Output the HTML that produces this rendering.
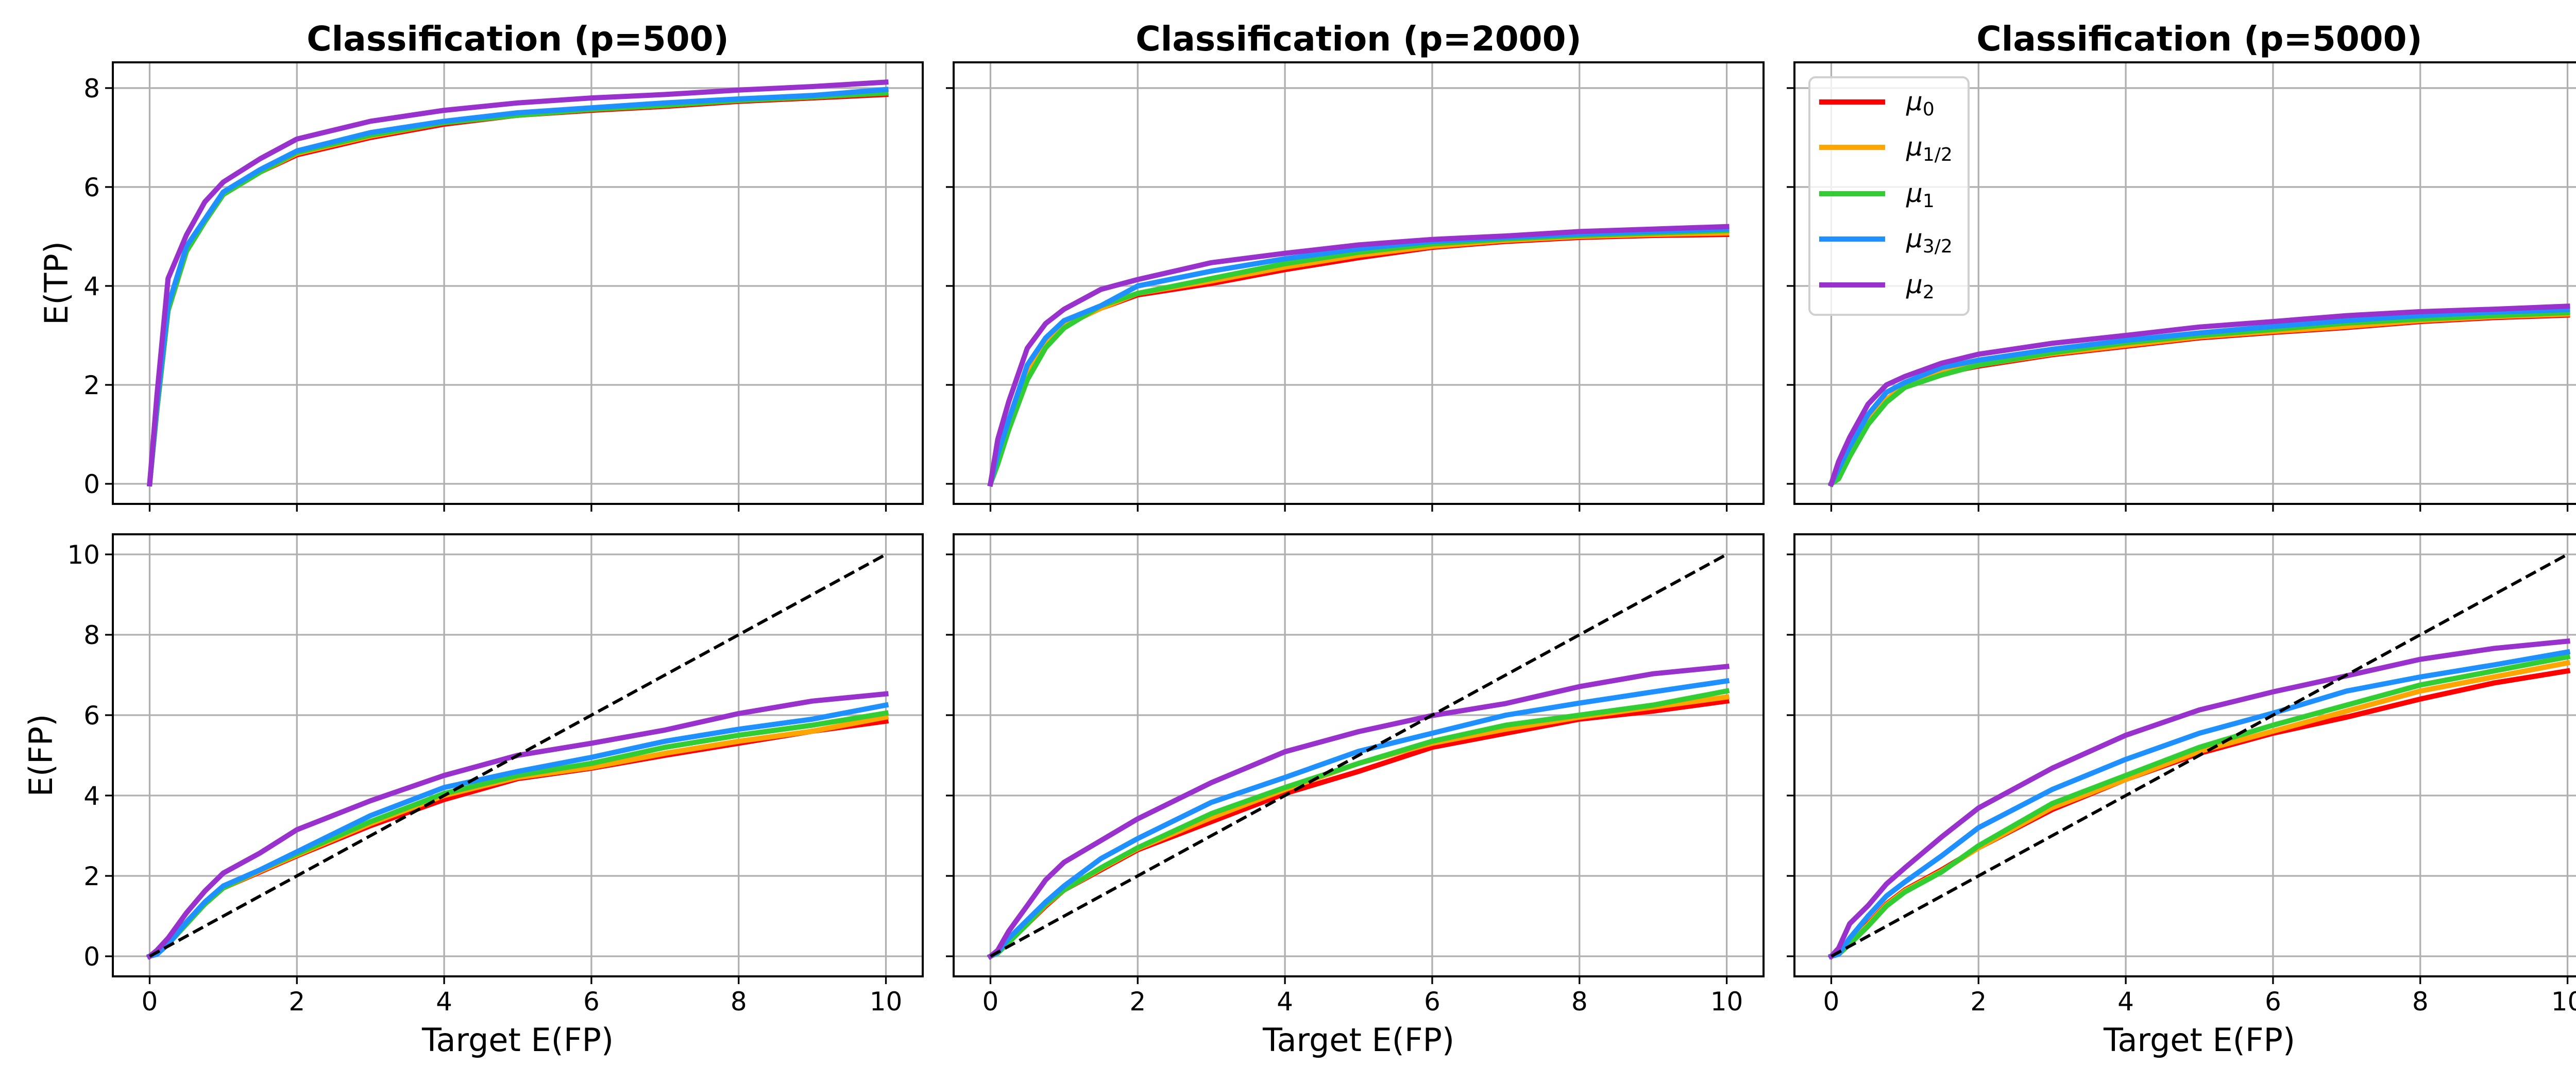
<!DOCTYPE html>
<html><head><meta charset="utf-8"><style>
html,body{margin:0;padding:0;background:#fff;}
svg{display:block;font-family:"DejaVu Sans","Liberation Sans",sans-serif;}
</style></head><body>
<svg id="chart" xmlns="http://www.w3.org/2000/svg" width="5100" height="2100" viewBox="0 0 5100 2100"></svg>
<script>
const xs = [0,0.1,0.25,0.5,0.75,1,1.5,2,3,4,5,6,7,8,9,10];
const seriesNames = ["mu0","mu1/2","mu1","mu3/2","mu2"];
const seriesColors = ["#ff0000","#ffa500","#32cd32","#1e90ff","#9932cc"];
const panelTitles = ["Classification (p=500)","Classification (p=2000)","Classification (p=5000)"];
const xTicks = [0,2,4,6,8,10];
const tpTicks = [0,2,4,6,8];
const fpTicks = [0,2,4,6,8,10];
// E(TP) top row
const tp500_mu0  = [0,1.5,3.5,4.7,5.3,5.85,6.3,6.65,7.0,7.27,7.45,7.55,7.63,7.73,7.8,7.87];
const tp500_mu12 = [0,1.5,3.5,4.7,5.3,5.85,6.3,6.68,7.03,7.3,7.45,7.57,7.65,7.75,7.82,7.9];
const tp500_mu1  = [0,1.5,3.5,4.7,5.3,5.85,6.3,6.7,7.05,7.3,7.45,7.57,7.65,7.75,7.82,7.9];
const tp500_mu32 = [0,1.6,3.6,4.8,5.35,5.9,6.35,6.73,7.1,7.33,7.5,7.6,7.7,7.78,7.85,7.97];
const tp500_mu2  = [0,1.8,4.15,5.03,5.7,6.1,6.57,6.97,7.33,7.55,7.7,7.8,7.87,7.96,8.03,8.12];
const tp2000_mu0  = [0,0.5,1.2,2.2,2.8,3.2,3.55,3.82,4.05,4.33,4.57,4.78,4.9,4.98,5.02,5.04];
const tp2000_mu12 = [0,0.5,1.2,2.2,2.8,3.2,3.55,3.85,4.1,4.38,4.62,4.8,4.92,5.0,5.04,5.07];
const tp2000_mu1  = [0,0.4,1.1,2.1,2.75,3.15,3.6,3.85,4.15,4.45,4.68,4.85,4.95,5.02,5.07,5.12];
const tp2000_mu32 = [0,0.6,1.3,2.4,2.95,3.3,3.6,4.0,4.3,4.55,4.75,4.9,4.98,5.05,5.1,5.15];
const tp2000_mu2  = [0,0.9,1.67,2.74,3.24,3.53,3.93,4.13,4.47,4.66,4.83,4.94,5.01,5.1,5.15,5.2];
const tp5000_mu0  = [0,0.2,0.58,1.23,1.68,1.98,2.23,2.38,2.61,2.78,2.95,3.06,3.16,3.28,3.36,3.41];
const tp5000_mu12 = [0,0.2,0.6,1.25,1.7,2.0,2.25,2.4,2.63,2.8,2.97,3.08,3.18,3.3,3.38,3.43];
const tp5000_mu1  = [0,0.1,0.55,1.2,1.65,1.95,2.2,2.4,2.65,2.85,3.0,3.12,3.25,3.33,3.4,3.46];
const tp5000_mu32 = [0,0.3,0.75,1.4,1.85,2.05,2.35,2.5,2.72,2.9,3.05,3.18,3.3,3.4,3.47,3.52];
const tp5000_mu2  = [0,0.45,0.94,1.61,2.0,2.17,2.44,2.62,2.84,3.0,3.17,3.28,3.4,3.48,3.53,3.59];
// E(FP) bottom row
const fp500_mu0  = [0,0.12,0.35,0.85,1.3,1.7,2.1,2.5,3.25,3.9,4.42,4.68,5.0,5.3,5.6,5.85];
const fp500_mu12 = [0,0.1,0.32,0.82,1.3,1.7,2.12,2.52,3.3,4.0,4.45,4.7,5.05,5.35,5.6,5.95];
const fp500_mu1  = [0,0.08,0.3,0.8,1.3,1.7,2.15,2.55,3.35,4.05,4.5,4.8,5.2,5.5,5.75,6.05];
const fp500_mu32 = [0,0.05,0.3,0.85,1.35,1.75,2.15,2.6,3.5,4.2,4.6,4.95,5.35,5.65,5.9,6.25];
const fp500_mu2  = [0,0.15,0.45,1.08,1.62,2.07,2.57,3.15,3.87,4.5,5.0,5.3,5.63,6.04,6.35,6.53];
const fp2000_mu0  = [0,0.1,0.4,0.8,1.25,1.65,2.15,2.65,3.35,4.05,4.6,5.2,5.55,5.9,6.1,6.35];
const fp2000_mu12 = [0,0.1,0.38,0.8,1.28,1.65,2.18,2.68,3.45,4.15,4.8,5.3,5.65,5.95,6.2,6.45];
const fp2000_mu1  = [0,0.08,0.35,0.8,1.3,1.65,2.2,2.7,3.55,4.2,4.8,5.35,5.75,6.0,6.25,6.6];
const fp2000_mu32 = [0,0.1,0.45,0.9,1.35,1.75,2.43,2.93,3.83,4.45,5.1,5.55,6.0,6.3,6.58,6.85];
const fp2000_mu2  = [0,0.15,0.63,1.26,1.9,2.34,2.88,3.42,4.32,5.09,5.59,5.99,6.29,6.71,7.03,7.21];
const fp5000_mu0  = [0,0.08,0.35,0.8,1.3,1.65,2.15,2.7,3.65,4.4,5.05,5.55,5.95,6.4,6.8,7.1];
const fp5000_mu12 = [0,0.08,0.33,0.78,1.28,1.63,2.12,2.7,3.7,4.4,5.1,5.6,6.1,6.6,6.95,7.3];
const fp5000_mu1  = [0,0.05,0.3,0.75,1.25,1.6,2.1,2.75,3.8,4.5,5.2,5.75,6.25,6.75,7.1,7.45];
const fp5000_mu32 = [0,0.05,0.45,1.0,1.5,1.85,2.5,3.2,4.15,4.9,5.55,6.05,6.6,6.95,7.25,7.57];
const fp5000_mu2  = [0,0.2,0.81,1.26,1.8,2.2,2.97,3.69,4.68,5.5,6.13,6.58,6.98,7.39,7.66,7.84];
const diagX = [0,10];
const diagY = [0,10];

const tpData = [[tp500_mu0,tp500_mu12,tp500_mu1,tp500_mu32,tp500_mu2],[tp2000_mu0,tp2000_mu12,tp2000_mu1,tp2000_mu32,tp2000_mu2],[tp5000_mu0,tp5000_mu12,tp5000_mu1,tp5000_mu32,tp5000_mu2]];
const fpData = [[fp500_mu0,fp500_mu12,fp500_mu1,fp500_mu32,fp500_mu2],[fp2000_mu0,fp2000_mu12,fp2000_mu1,fp2000_mu32,fp2000_mu2],[fp5000_mu0,fp5000_mu12,fp5000_mu1,fp5000_mu32,fp5000_mu2]];

const NS = "http://www.w3.org/2000/svg";
const svg = document.getElementById("chart");
function mk(tag, attrs, parent){ const e=document.createElementNS(NS,tag); for(const k in attrs) e.setAttribute(k,attrs[k]); (parent||svg).appendChild(e); return e; }

const colLeft = [219,1851,3483];
const PW = 1572;
const rows = [{top:121,bottom:978,ymin:-0.406,ymax:8.52,ticks:tpTicks,data:tpData,label:"E(TP)",labelX:109,diag:false,name:"tp"},
              {top:1037,bottom:1895,ymin:-0.5,ymax:10.5,ticks:fpTicks,data:fpData,label:"E(FP)",labelX:79,diag:true,name:"fp"}];
const XMIN=-0.5, XMAX=10.5;

rows.forEach((r,ri)=>{
  for(let c=0;c<3;c++){
    const L=colLeft[c];
    const xS=v=>L+(v-XMIN)/(XMAX-XMIN)*PW;
    const yS=v=>r.bottom-(v-r.ymin)/(r.ymax-r.ymin)*(r.bottom-r.top);
    const g=mk("g",{});
    
    
    // grid
    xTicks.forEach(t=>{
      const l=mk("line",{x1:xS(t),x2:xS(t),y1:r.top,y2:r.bottom,stroke:"#b0b0b0","stroke-width":3.3},g);
      
      
      const tk=mk("line",{x1:xS(t),x2:xS(t),y1:r.bottom,y2:r.bottom+15,stroke:"#000","stroke-width":3.3},g);
      
      
      if(ri===1){
        const tx=mk("text",{x:xS(t),y:r.bottom+66,"font-size":50,"text-anchor":"middle",fill:"#000"},g);
        tx.textContent=t;
        
        
      }
    });
    r.ticks.forEach(t=>{
      const l=mk("line",{x1:L,x2:L+PW,y1:yS(t),y2:yS(t),stroke:"#b0b0b0","stroke-width":3.3},g);
      
      
      const tk=mk("line",{x1:L-15,x2:L,y1:yS(t),y2:yS(t),stroke:"#000","stroke-width":3.3},g);
      
      
      if(c===0){
        const tx=mk("text",{x:L-25,y:yS(t)+18,"font-size":50,"text-anchor":"end",fill:"#000"},g);
        tx.textContent=t;
        
        
      }
    });
    const clipId="clip"+ri+c;
    const cp=mk("clipPath",{id:clipId},g);
    mk("rect",{x:L,y:r.top,width:PW,height:r.bottom-r.top},cp);
    const plot=mk("g",{"clip-path":"url(#"+clipId+")"},g);
    r.data[c].forEach((ser,si)=>{
      const pts=xs.map((x,i)=>xS(x).toFixed(1)+","+yS(ser[i]).toFixed(1)).join(" ");
      const pl=mk("polyline",{points:pts,fill:"none",stroke:seriesColors[si],"stroke-width":10,"stroke-linejoin":"round","stroke-linecap":"square"},plot);
      
      
    });
    if(r.diag){
      const pts=diagX.map((x,i)=>xS(x)+","+yS(diagY[i])).join(" ");
      const dl=mk("polyline",{points:pts,fill:"none",stroke:"#000","stroke-width":6,"stroke-dasharray":"22 10"},plot);
      
      
    }
    const fr=mk("rect",{x:L,y:r.top,width:PW,height:r.bottom-r.top,fill:"none",stroke:"#000","stroke-width":4},g);
    
    
    if(ri===0){
      const tt=mk("text",{x:L+PW/2,y:98,"font-size":66,"font-weight":"bold","text-anchor":"middle",fill:"#000"},g);
      tt.textContent=panelTitles[c];
      
      
    } else {
      const xl=mk("text",{x:L+PW/2,y:2040,"font-size":62,"text-anchor":"middle",fill:"#000"},g);
      xl.textContent="Target E(FP)";
      
      
    }
    if(c===0){
      const cy=(r.top+r.bottom)/2;
      const yl=mk("text",{x:r.labelX+22,y:cy,"font-size":62,"text-anchor":"middle",fill:"#000",transform:"rotate(-90 "+(r.labelX+22)+" "+cy+")"},g);
      yl.textContent=r.label;
      
      
    }
  }
});

// legend
const lg=mk("g",{});


const lbox=mk("rect",{x:3512,y:150,width:309,height:461,rx:12,fill:"#fff","fill-opacity":0.8,stroke:"#d0d0d0","stroke-width":4},lg);


const subs=["0","1/2","1","3/2","2"];
const entryY=[198,286,376,464,553];
subs.forEach((s,i)=>{
  const e=mk("g",{},lg);
  
  
  mk("line",{x1:3531,x2:3659,y1:entryY[i],y2:entryY[i],stroke:seriesColors[i],"stroke-width":10},e);
  const t=mk("text",{x:3700,y:entryY[i]+16,"font-size":50,fill:"#000"},e);
  const m=mk("tspan",{"font-style":"italic"},t); m.textContent="μ";
  const sb=mk("tspan",{"font-size":36,dy:10},t); sb.textContent=s;
});
</script>
</body></html>
